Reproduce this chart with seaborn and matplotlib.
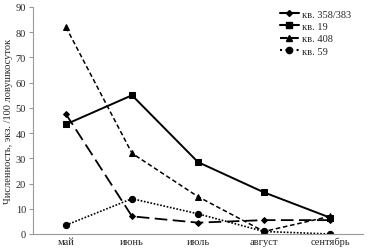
import pandas as pd
import seaborn as sns
import matplotlib.pyplot as plt
from matplotlib.lines import Line2D

months = ['май', 'июнь', 'июль', 'август', 'сентябрь']
kv_358 = [47.5, 7.0, 4.5, 5.5, 5.5]
kv_19 = [43.5, 55.0, 28.5, 16.5, 6.5]
kv_408 = [82.0, 32.0, 14.8, 1.0, 7.0]
kv_59 = [3.5, 14.0, 8.0, 1.0, 0.0]
labels = ['кв. 358/383', 'кв. 19', 'кв. 408', 'кв. 59']

sns.set_style('white')
plt.rcParams['font.family'] = ['Liberation Serif', 'DejaVu Serif']

fig = plt.figure(figsize=(3.73, 2.53), dpi=100)
ax = fig.add_axes([33 / 373, 18 / 253, 330 / 373, 227 / 253])

# style per series: marker, markersize, linewidth, dashes
styles = [
    ('D', 3, 1.3, (7, 3)),
    ('s', 4.5, 1.4, None),
    ('^', 4.5, 1.1, (3, 1.8)),
    ('o', 4.5, 1.2, (1, 1)),
]

handles = []
for vals, lab, (mk, ms, lw, ds) in zip([kv_358, kv_19, kv_408, kv_59], labels, styles):
    df = pd.DataFrame({'month': months, 'value': vals})
    ls = '-' if ds is None else (0, ds)
    sns.lineplot(data=df, x='month', y='value', ax=ax, color='black', marker=mk,
                 markersize=ms, markeredgecolor='black', linewidth=lw, linestyle=ls,
                 sort=False)
    leg_ls = ':' if mk == 'o' else ('--' if mk == '^' else '-')
    handles.append(Line2D([0], [0], color='black', marker=mk, markersize=ms,
                          linewidth=1.5, linestyle=leg_ls, label=lab))

ax.set_xlim(-0.5, 4.5)
ax.set_ylim(0, 90)
ax.set_yticks(range(0, 91, 10))
ax.set_xticks(range(5))
ax.set_xticklabels(months)
ax.set_xticks([i - 0.5 for i in range(6)], minor=True)
ax.tick_params(axis='x', which='major', length=0, labelsize=7.5, pad=2)
ax.tick_params(axis='x', which='minor', length=4, color='#999999', direction='out')
ax.tick_params(axis='y', length=3, color='#999999', labelsize=7.5, pad=2, left=True)
ax.set_xlabel('')
ax.set_ylabel('Численность, экз. /100 ловушкосуток', fontsize=7.5, labelpad=2)

for s in ['top', 'right']:
    ax.spines[s].set_visible(False)
for s in ['left', 'bottom']:
    ax.spines[s].set_color('#999999')
    ax.spines[s].set_linewidth(0.8)

ax.legend(handles=handles, loc='upper right', bbox_to_anchor=(0.985, 1.022), frameon=False,
          fontsize=7.5, handlelength=1.8, handletextpad=0.3, labelspacing=0.3,
          borderpad=0.2)

fig.savefig('out.png', dpi=100)
